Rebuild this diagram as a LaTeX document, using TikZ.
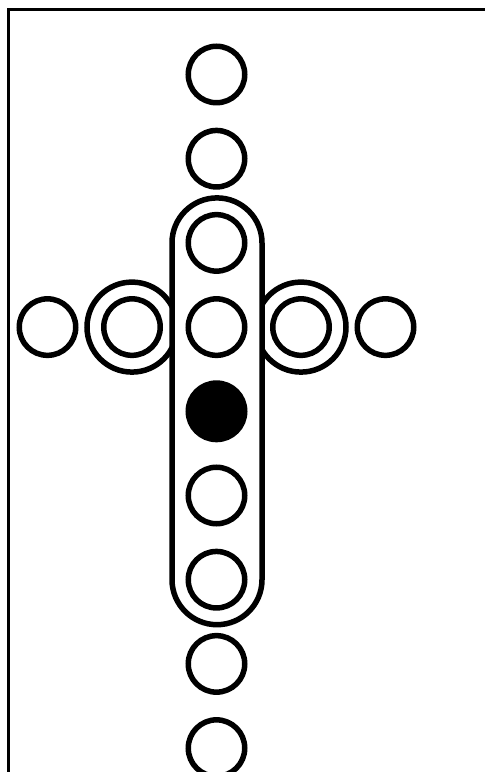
\documentclass[tikz,border=0pt]{standalone}
\begin{document}
\begin{tikzpicture}[x=1pt,y=1pt,
  ring/.style={circle,draw=black,line width=5.5pt,minimum size=56.5pt,inner sep=0pt,fill=white},
  dot/.style={circle,draw=black,fill=black,line width=5.5pt,minimum size=56.5pt,inner sep=0pt},
  bigring/.style={circle,draw=black,line width=5.5pt,minimum size=90pt,inner sep=0pt},
  frame/.style={draw=black,line width=3pt}]
\useasboundingbox (0,0) rectangle (485,772);
\clip (0,0) rectangle (485,772);
\fill[white] (0,0) rectangle (485,772);
\draw[frame] (500,762) -| (8,-20);
% outer rings of the side double circles
\node[bigring] (L2o) at (132,444.9) {};
\node[bigring] (R2o) at (301,444.9) {};
% stadium
\draw[line width=5.5pt,fill=white] (172,529.1) -- (172,192.3) arc[start angle=180,end angle=360,radius=45]
  -- (262,529.1) arc[start angle=0,end angle=180,radius=45] -- cycle;
% column
\node[ring] (c1) at (216.5,697.5) {};
\node[ring] (c2) at (216.5,613.3) {};
\node[ring] (c3) at (216.5,529.1) {};
\node[ring] (c4) at (216.5,444.9) {};
\node[dot]  (c5) at (216.5,360.7) {};
\node[ring] (c6) at (216.5,276.5) {};
\node[ring] (c7) at (216.5,192.3) {};
\node[ring] (c8) at (216.5,108.1) {};
\node[ring] (c9) at (216.5,23.9) {};
% row
\node[ring] (L1) at (47.5,444.9) {};
\node[ring] (L2) at (132,444.9) {};
\node[ring] (R2) at (301,444.9) {};
\node[ring] (R1) at (385.5,444.9) {};
\end{tikzpicture}
\end{document}
